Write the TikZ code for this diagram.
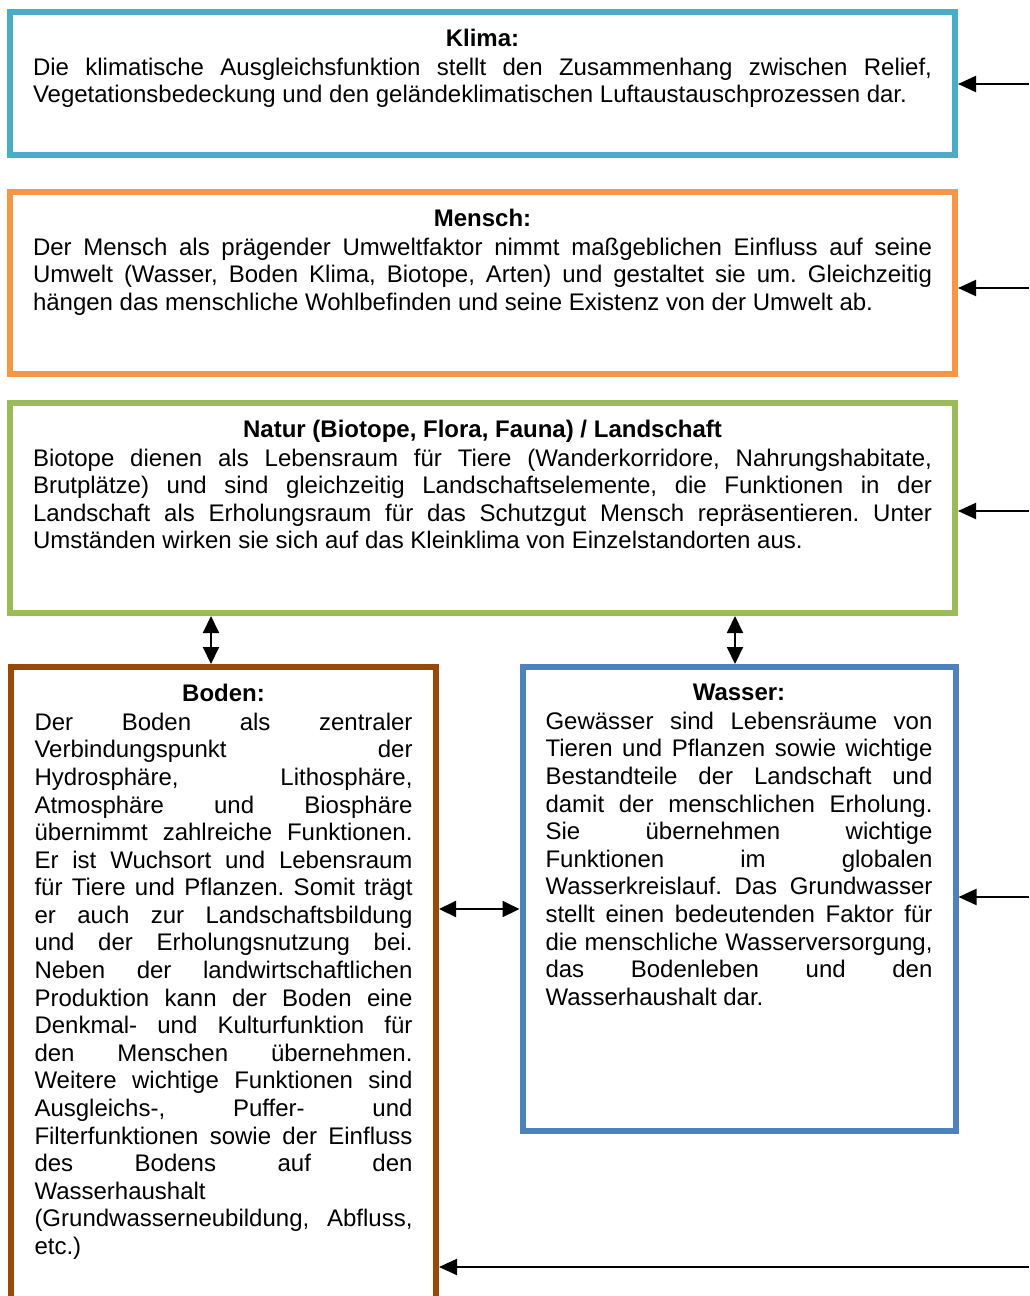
\documentclass[tikz,border=0pt]{standalone}
\usepackage{fontspec}
\setmainfont{Liberation Sans}
\usetikzlibrary{arrows.meta,positioning}
\definecolor{klimablau}{HTML}{4BACC6}
\definecolor{menschorange}{HTML}{F79646}
\definecolor{naturgruen}{HTML}{9BBB59}
\definecolor{bodenbraun}{HTML}{984807}
\definecolor{wasserblau}{HTML}{4F81BD}
\newcommand\kastensatz{\fontsize{24}{27.6}\selectfont\frenchspacing
  \tolerance=10000\relax\hyphenpenalty=10000\relax\exhyphenpenalty=10000\relax}
\newcommand\kastentitel[1]{{\centering\bfseries #1\par}\vspace{1.5pt}}
\begin{document}
\begin{tikzpicture}[
  x=1pt, y=-1pt,
  klima box/.style={
    rectangle,
    fill=white,
    line width=6pt,
    draw=klimablau,
    minimum width=945pt, minimum height=143pt
  },
  mensch box/.style={
    rectangle,
    fill=white,
    line width=6pt,
    draw=menschorange,
    minimum width=945pt, minimum height=182pt
  },
  natur box/.style={
    rectangle,
    fill=white,
    line width=6pt,
    draw=naturgruen,
    minimum width=945pt, minimum height=210pt
  },
  boden box/.style={
    rectangle,
    fill=white,
    line width=6pt,
    draw=bodenbraun,
    minimum width=425pt, minimum height=660pt
  },
  wasser box/.style={
    rectangle,
    fill=white,
    line width=6pt,
    draw=wasserblau,
    minimum width=433pt, minimum height=464pt
  },
  box text/.style={
    inner sep=0pt,
    align=justify,
    font=\kastensatz
  },
  pfeil/.style={
    line width=2pt,
    -{Triangle[length=18pt,width=16pt]}
  },
  doppelpfeil/.style={
    line width=2pt,
    {Triangle[length=17pt,width=16pt]}-{Triangle[length=17pt,width=16pt]}
  }
  ]
\useasboundingbox (0,0) rectangle (1029,1296);
% Klima
\node [klima box] (klima) at (482.5,83.5) {};
\node [box text, text width=899pt, below=19.5pt of klima.north] (klima text) {\kastentitel{Klima:}
Die klimatische Ausgleichsfunktion stellt den Zusammenhang zwischen Relief,\linebreak
Vegetationsbedeckung und den geländeklimatischen Luftaustauschprozessen dar.};
% Mensch
\node [mensch box] (mensch) at (482.5,283) {};
\node [box text, text width=899pt, below=19.5pt of mensch.north] (mensch text) {\kastentitel{Mensch:}
Der Mensch als prägender Umweltfaktor nimmt maßgeblichen Einfluss auf seine\linebreak
Umwelt (Wasser, Boden Klima, Biotope, Arten) und gestaltet sie um. Gleichzeitig\linebreak
hängen das menschliche Wohlbefinden und seine Existenz von der Umwelt ab.};
% Natur / Landschaft
\node [natur box] (natur) at (482.5,508) {};
\node [box text, text width=899pt, below=19.5pt of natur.north] (natur text) {\kastentitel{Natur (Biotope, Flora, Fauna) / Landschaft}
Biotope dienen als Lebensraum für Tiere (Wanderkorridore, Nahrungshabitate,\linebreak
Brutplätze) und sind gleichzeitig Landschaftselemente, die Funktionen in der\linebreak
Landschaft als Erholungsraum für das Schutzgut Mensch repräsentieren. Unter\linebreak
Umständen wirken sie sich auf das Kleinklima von Einzelstandorten aus.};
% Boden
\node [boden box] (boden) at (223.5,997) {};
\node [box text, text width=378pt, below=19.5pt of boden.north] (boden text) {\kastentitel{Boden:}
Der Boden als zentraler\linebreak
Verbindungspunkt der\linebreak
Hydrosphäre, Lithosphäre,\linebreak
Atmosphäre und Biosphäre\linebreak
übernimmt zahlreiche Funktionen.\linebreak
Er ist Wuchsort und Lebensraum\linebreak
für Tiere und Pflanzen. Somit trägt\linebreak
er auch zur Landschaftsbildung\linebreak
und der Erholungsnutzung bei.\linebreak
Neben der landwirtschaftlichen\linebreak
Produktion kann der Boden eine\linebreak
Denkmal- und Kulturfunktion für\linebreak
den Menschen übernehmen.\linebreak
Weitere wichtige Funktionen sind\linebreak
Ausgleichs-, Puffer- und\linebreak
Filterfunktionen sowie der Einfluss\linebreak
des Bodens auf den\linebreak
Wasserhaushalt\linebreak
(Grundwasserneubildung, Abfluss,\linebreak
etc.)};
% Wasser
\node [wasser box] (wasser) at (739,899) {};
\node [box text, text width=387pt, below=19.5pt of wasser.north] (wasser text) {\kastentitel{Wasser:}
Gewässer sind Lebensräume von\linebreak
Tieren und Pflanzen sowie wichtige\linebreak
Bestandteile der Landschaft und\linebreak
damit der menschlichen Erholung.\linebreak
Sie übernehmen wichtige\linebreak
Funktionen im globalen\linebreak
Wasserkreislauf. Das Grundwasser\linebreak
stellt einen bedeutenden Faktor für\linebreak
die menschliche Wasserversorgung,\linebreak
das Bodenleben und den\linebreak
Wasserhaushalt dar.};
% Wechselwirkungen
\draw[doppelpfeil] ([xshift=-12.5pt]boden.north) -- ([xshift=-12.5pt]boden.north |- natur.south);
\draw[doppelpfeil] ([xshift=-4pt]wasser.north) -- ([xshift=-4pt]wasser.north |- natur.south);
\draw[doppelpfeil] ([yshift=-10pt]wasser.west) -- ([yshift=-10pt]wasser.west -| boden.east);
% Pfeile vom rechten Rand
\coordinate (klima rand) at (1029,84);
\coordinate (mensch rand) at (1029,288);
\coordinate (natur rand) at (1029,511);
\coordinate (wasser rand) at (1029,897);
\coordinate (boden rand) at (1029,1267);
\draw[pfeil] (klima rand) -- (klima rand -| klima.east);
\draw[pfeil] (mensch rand) -- (mensch rand -| mensch.east);
\draw[pfeil] (natur rand) -- (natur rand -| natur.east);
\draw[pfeil] (wasser rand) -- (wasser rand -| wasser.east);
\draw[pfeil] (boden rand) -- (boden rand -| boden.east);
\end{tikzpicture}
\end{document}
